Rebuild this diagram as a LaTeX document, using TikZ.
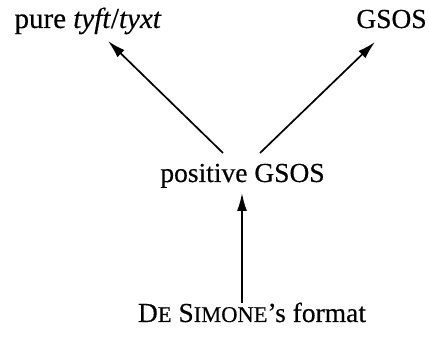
\documentclass[tikz,border=0pt]{standalone}
\usepackage{fontspec}
\setmainfont[FakeBold=0.35]{Liberation Serif}
\usetikzlibrary{arrows.meta,calc}
\newcommand{\fakesc}[1]{{\fontsize{22.5}{22.5}\selectfont #1}}
\begin{document}
\begin{tikzpicture}[x=1pt,y=1pt,
  lbl/.style={inner sep=0pt,anchor=base,font=\fontsize{27.5}{30}\selectfont},
  arr/.style={line width=1.7pt,-{Latex[length=18pt,width=10pt]}}]
\useasboundingbox (0,0) rectangle (429,337);
\node[lbl,font=\fontsize{29}{30}\selectfont] (pure) at (88,309) {pure \textit{tyft}/\textit{tyxt}};
\node[lbl] (gsos) at (391.5,309) {GSOS};
\node[lbl] (pos) at (242.5,155) {positive GSOS};
\node[lbl] (ds) at (252,15) {D\fakesc{E} S\fakesc{IMONE}'s format};
\draw[arr] ($(pos.base)+(-19.5,29)$) -- ($(pure.base)+(20,-13)$);
\draw[arr] ($(pos.base)+(17.5,29)$) -- ($(gsos.base)+(-16.5,-14)$);
\draw[arr] ($(ds.base)+(-10,19)$) -- ($(pos.base)+(-0.5,-11)$);
\end{tikzpicture}
\end{document}
